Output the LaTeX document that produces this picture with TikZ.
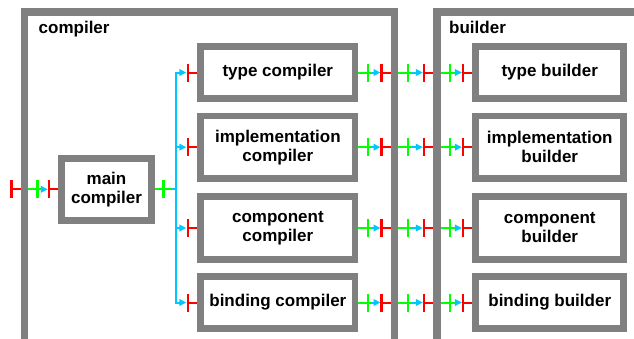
\documentclass[tikz,border=0pt]{standalone}
\usepackage{fontspec}
\setmainfont{Liberation Sans}
\usetikzlibrary{arrows.meta,calc}
\definecolor{gframe}{RGB}{128,128,128}
\definecolor{pred}{RGB}{255,0,0}
\definecolor{pgreen}{RGB}{0,255,0}
\definecolor{pcyan}{RGB}{0,200,255}
\tikzset{
  box/.style={draw=gframe, line width=6.7pt, fill=white, inner sep=0pt, align=center,
    font=\fontsize{17}{19}\selectfont\bfseries},
  frame/.style={draw=gframe, line width=7.3pt, inner sep=0pt},
  title/.style={anchor=base west, inner sep=0pt, font=\fontsize{17}{19}\selectfont\bfseries},
  gl/.style={draw=pgreen, line width=2pt},
  gb/.style={draw=pgreen, line width=2.4pt},
  rl/.style={draw=pred, line width=2pt},
  rb/.style={draw=pred, line width=2.4pt},
  cl/.style={draw=pcyan, line width=2pt},
  tip/.tip={Triangle[length=7pt,width=6.5pt]},
  ca/.style={draw=pcyan, line width=2pt, -tip},
}
\newcommand{\lnk}[2]{%
  \draw[gl] (#1) -- ++(14,0);
  \draw[gb] ($(#1)+(9.5,-9)$) -- ++(0,18);
  \draw[ca] ($(#1)+(14,0)$) -- ($(#2)+(-10.5,0)$);
  \draw[rb] ($(#2)+(-9.5,-9)$) -- ++(0,18);
  \draw[rl] ($(#2)+(-9.5,0)$) -- (#2);
}
\begin{document}
\begin{tikzpicture}[x=1pt,y=-1pt]
\useasboundingbox (0,0) rectangle (634,338);
\clip (0,0) rectangle (634,338);
% frames
\node[frame, minimum width=370.5, minimum height=488, anchor=north west] (compiler) at (20.55,8.35) {};
\node[frame, minimum width=400, minimum height=488, anchor=north west] (builder) at (433.35,8.35) {};
\node[title] (ctitle) at (38.5,33.3) {compiler};
\node[title] (btitle) at (449,33.3) {builder};
% compiler boxes
\node[box, minimum width=89.6, minimum height=62] (main) at (106.5,189.3) {main\\compiler};
\node[box, minimum width=154.3, minimum height=51.6] (tc) at (277.85,72.5) {type compiler};
\node[box, minimum width=154.3, minimum height=62.3] (ic) at (277.85,147.15) {implementation\\compiler};
\node[box, minimum width=154.3, minimum height=62.6] (cc) at (277.85,228) {component\\compiler};
\node[box, minimum width=154.3, minimum height=51.6] (bc) at (277.85,302.5) {binding compiler};
% builder boxes
\node[box, minimum width=147.9, minimum height=51.6] (tb) at (549.75,72.5) {type builder};
\node[box, minimum width=147.9, minimum height=62.3] (ib) at (549.75,147.15) {implementation\\builder};
\node[box, minimum width=147.9, minimum height=62.6] (cb) at (549.75,228) {component\\builder};
\node[box, minimum width=147.9, minimum height=51.6] (bb) at (549.75,302.5) {binding builder};
% input port of compiler
\path (compiler.west |- main.west) coordinate (cLo) ++(7.3,0) coordinate (cLi);
\coordinate (inport) at ($(cLo)+(-9,0)$);
\draw[rl] (inport) -- (cLo);
\draw[rb] ($(inport)+(0,-9)$) -- ++(0,18);
\lnk{cLi}{main.west}
% main compiler fan-out
\coordinate (bus) at ($(main.east)+(21.65,0)$);
\draw[gl] (main.east) -- ++(16,0);
\draw[gb] ($(main.east)+(8.7,-9)$) -- ++(0,18);
\draw[cl] ($(main.east)+(16,0)$) -- (bus);
\draw[cl, tip-tip] ($(tc.west)+(-11,0)$) -- (bus |- tc.west) -- (bus |- bc.west) -- ($(bc.west)+(-11,0)$);
\draw[ca] (bus |- ic.west) -- ($(ic.west)+(-11,0)$);
\draw[ca] (bus |- cc.west) -- ($(cc.west)+(-11,0)$);
\foreach \s in {tc,ic,cc,bc} {
  \draw[rb] ($(\s.west)+(-9.5,-9)$) -- ++(0,18);
  \draw[rl] ($(\s.west)+(-9.5,0)$) -- (\s.west);
}
% links between compiler and builder
\foreach \s/\t in {tc/tb,ic/ib,cc/cb,bc/bb} {
  \path (compiler.east |- \s.east) coordinate (\s Ro) ++(-7.3,0) coordinate (\s Ri);
  \path (builder.west |- \t.west) coordinate (\t Lo) ++(7.3,0) coordinate (\t Li);
  \lnk{\s.east}{\s Ri}
  \lnk{\s Ro}{\t Lo}
  \lnk{\t Li}{\t.west}
}
\end{tikzpicture}
\end{document}
